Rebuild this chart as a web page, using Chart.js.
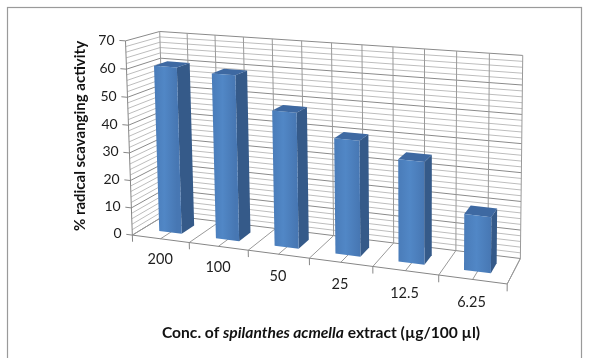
<!DOCTYPE html>
<html>
<head>
<meta charset="utf-8">
<script src="https://cdn.jsdelivr.net/npm/chart.js@4/dist/chart.umd.min.js"></script>
<style>
  html, body { margin: 0; padding: 0; background: #ffffff; }
  canvas { display: block; }
</style>
</head>
<body>
<canvas id="chart" width="590" height="358"></canvas>
<script>
// ---- data ----
const categories = ['200', '100', '50', '25', '12.5', '6.25'];
const activity = [60.5, 59.3, 48, 40.3, 35.2, 19];
const yTicks = [0, 10, 20, 30, 40, 50, 60, 70];
const yMinorStep = 2;
const yTitle = '% radical scavanging activity';
const xTitleParts = [['Conc. of ', false], ['spilanthes acmella', true], [' extract (\u00b5g/100 \u00b5l)', false]];

// ---- layout of the 3D box (screen anchors used to fit a perspective camera) ----
// X runs across the categories (0..1), Y up the value axis (0..1), Z into the depth (0 front, 1 back)
const frontEdgePx = [[132, 236.5], [191.7, 243.3], [248.3, 250], [309, 256.7], [371.7, 266.7], [436.7, 276], [508, 285.5]];
const backTopPx = [158.8, 214.5, 271.7, 331, 395, 457, 522];
const backTopY = [31.8, 55];
const frontAxisPx = [235.5, 207.7, 180, 152.5, 124.8, 96.8, 68.5, 40.3];
const frontAxisX = [132, 126];
const backRightBottom = [521.3, 256.3];

const BAR_WIDTH = 0.4;          // share of a category
const BAR_DEPTH = [0.3, 0.7];   // depth span of each column
const FONT = 'Lato, "Open Sans", sans-serif';

function buildAnchors() {
  const a = [];
  frontEdgePx.forEach((p, k) => a.push([k / 6, 0, 0, p[0], p[1]]));
  backTopPx.forEach((x, k) => a.push([k / 6, 1, 1, x, backTopY[0] + (backTopY[1] - backTopY[0]) * k / 6]));
  frontAxisPx.forEach((y, k) => a.push([0, k / 7, 0, frontAxisX[0] + (frontAxisX[1] - frontAxisX[0]) * k / 7, y]));
  a.push([1, 0, 1, backRightBottom[0], backRightBottom[1]]);
  return a;
}

function solve(A, b) {
  const n = b.length;
  for (let c = 0; c < n; c++) {
    let piv = c;
    for (let r = c + 1; r < n; r++) if (Math.abs(A[r][c]) > Math.abs(A[piv][c])) piv = r;
    [A[c], A[piv]] = [A[piv], A[c]];
    [b[c], b[piv]] = [b[piv], b[c]];
    for (let r = c + 1; r < n; r++) {
      const f = A[r][c] / A[c][c];
      for (let k = c; k < n; k++) A[r][k] -= f * A[c][k];
      b[r] -= f * b[c];
    }
  }
  const x = new Array(n).fill(0);
  for (let r = n - 1; r >= 0; r--) {
    let s = b[r];
    for (let k = r + 1; k < n; k++) s -= A[r][k] * x[k];
    x[r] = s / A[r][r];
  }
  return x;
}

// least-squares pinhole projection (DLT with p34 = 1)
const CX = 300, CY = 160, CS = 200;
function fitCamera(pairs) {
  const N = 11;
  const A = Array.from({ length: N }, () => new Array(N).fill(0));
  const b = new Array(N).fill(0);
  const add = (row, rhs) => {
    for (let i = 0; i < N; i++) {
      b[i] += row[i] * rhs;
      for (let j = 0; j < N; j++) A[i][j] += row[i] * row[j];
    }
  };
  for (const [X, Y, Z, px, py] of pairs) {
    const x = (px - CX) / CS, y = (py - CY) / CS;
    add([X, Y, Z, 1, 0, 0, 0, 0, -x * X, -x * Y, -x * Z], x);
    add([0, 0, 0, 0, X, Y, Z, 1, -y * X, -y * Y, -y * Z], y);
  }
  return solve(A, b);
}
const P = fitCamera(buildAnchors());
function project(X, Y, Z) {
  const w = P[8] * X + P[9] * Y + P[10] * Z + 1;
  return [
    (P[0] * X + P[1] * Y + P[2] * Z + P[3]) / w * CS + CX,
    (P[4] * X + P[5] * Y + P[6] * Z + P[7]) / w * CS + CY
  ];
}

function line(ctx, a, b, color, width) {
  ctx.beginPath();
  ctx.moveTo(a[0], a[1]);
  ctx.lineTo(b[0], b[1]);
  ctx.strokeStyle = color;
  ctx.lineWidth = width || 1;
  ctx.stroke();
}
function poly(ctx, pts, fill) {
  ctx.beginPath();
  ctx.moveTo(pts[0][0], pts[0][1]);
  for (let i = 1; i < pts.length; i++) ctx.lineTo(pts[i][0], pts[i][1]);
  ctx.closePath();
  ctx.fillStyle = fill;
  ctx.fill();
}

const box3d = {
  id: 'box3d',
  afterDraw(chart) {
    const ctx = chart.ctx;
    const area = chart.chartArea;
    const xs = chart.scales.x, ys = chart.scales.y;
    const catW = xs.getPixelForValue(1) - xs.getPixelForValue(0);
    // scale pixels -> normalised box coordinates
    const U = (idx, off) => (xs.getPixelForValue(idx) + off * catW - area.left) / area.width;
    const V = (val) => (area.bottom - ys.getPixelForValue(val)) / area.height;
    const yMax = yTicks[yTicks.length - 1];

    ctx.save();
    // outer frame
    ctx.strokeStyle = '#9a9a9a';
    ctx.lineWidth = 1.2;
    ctx.strokeRect(7.5, 7.5, 574, 370);

    const MAJOR = '#8a8a8a', MINOR = '#bdbdbd';
    // back wall and side wall horizontal lines
    for (let t = 0; t <= yMax + 1e-9; t += yMinorStep) {
      const v = V(t);
      const col = (t % 10 === 0) ? MAJOR : MINOR;
      line(ctx, project(0, v, 1), project(1, v, 1), col);
      line(ctx, project(0, v, 0), project(0, v, 1), col);
    }
    // vertical lines on the back wall, depth lines on the floor
    for (let k = 0; k <= categories.length * 2; k++) {
      const idx = Math.floor(k / 2);
      const x = k === categories.length * 2 ? U(categories.length - 1, 0.5) : U(idx, (k % 2) ? 0 : -0.5);
      line(ctx, project(x, 0, 1), project(x, 1, 1), '#999999');
      line(ctx, project(x, 0, 0), project(x, 0, 1), '#999999');
    }
    // right edge of floor
    line(ctx, project(1, 0, 0), project(1, 0, 1), '#999999');

    // axes
    const AXIS = '#868686';
    line(ctx, project(0, 0, 0), project(0, 1, 0), AXIS);
    line(ctx, project(0, 0, 0), project(1, 0, 0), AXIS);
    yTicks.forEach(t => line(ctx, project(-0.018, V(t), 0), project(0, V(t), 0), AXIS));
    for (let i = 0; i <= categories.length; i++) {
      const x = i === categories.length ? U(i - 1, 0.5) : U(i, -0.5);
      line(ctx, project(x, 0, 0), project(x, -0.035, 0), AXIS);
    }

    // columns, far (left) to near (right)
    activity.forEach((val, i) => {
      const x0 = U(i, -BAR_WIDTH / 2), x1 = U(i, BAR_WIDTH / 2);
      const z0 = BAR_DEPTH[0], z1 = BAR_DEPTH[1];
      const y0 = V(0), y1 = V(val);
      const fbl = project(x0, y0, z0), fbr = project(x1, y0, z0);
      const ftl = project(x0, y1, z0), ftr = project(x1, y1, z0);
      const bbr = project(x1, y0, z1), btr = project(x1, y1, z1), btl = project(x0, y1, z1);
      poly(ctx, [fbr, bbr, btr, ftr], '#355a89');
      poly(ctx, [ftl, ftr, btr, btl], '#3e69a2');
      const g = ctx.createLinearGradient(ftl[0], 0, ftr[0], 0);
      g.addColorStop(0, '#4a7cb9');
      g.addColorStop(0.45, '#5187c6');
      g.addColorStop(1, '#4777b3');
      poly(ctx, [fbl, fbr, ftr, ftl], g);
    });

    // tick labels
    ctx.fillStyle = '#1e1e1e';
    ctx.font = '14px ' + FONT;
    ctx.textAlign = 'right';
    ctx.textBaseline = 'middle';
    yTicks.forEach(t => {
      const p = project(-0.032, V(t), 0);
      ctx.fillText(String(t), p[0], p[1]);
    });
    ctx.font = '14.5px ' + FONT;
    ctx.textAlign = 'center';
    categories.forEach((c, i) => {
      const p = project(U(i, 0), -0.11, 0);
      ctx.fillText(c, p[0] - 1, p[1]);
    });

    // axis titles
    ctx.fillStyle = '#111111';
    ctx.font = 'bold 15px ' + FONT;
    ctx.save();
    ctx.translate(80, 136);
    ctx.rotate(-Math.PI / 2);
    ctx.textAlign = 'center';
    ctx.fillText(yTitle, 0, 0);
    ctx.restore();

    const fonts = xTitleParts.map(p => (p[1] ? 'italic ' : '') + 'bold 15.6px ' + FONT);
    let total = 0;
    const widths = xTitleParts.map((p, i) => { ctx.font = fonts[i]; const w = ctx.measureText(p[0]).width; total += w; return w; });
    let x = 321 - total / 2;
    ctx.textAlign = 'left';
    xTitleParts.forEach((p, i) => {
      ctx.font = fonts[i];
      ctx.fillText(p[0], x, 333);
      x += widths[i];
    });
    ctx.restore();
  }
};

new Chart(document.getElementById('chart'), {
  type: 'bar',
  data: {
    labels: categories,
    datasets: [{ data: activity, backgroundColor: 'rgba(0,0,0,0)', borderWidth: 0 }]
  },
  options: {
    responsive: false,
    animation: false,
    events: [],
    layout: { padding: 0 },
    plugins: { legend: { display: false }, tooltip: { enabled: false } },
    scales: {
      x: { display: false, offset: true },
      y: { display: false, min: 0, max: 70 }
    }
  },
  plugins: [box3d]
});
</script>
</body>
</html>
